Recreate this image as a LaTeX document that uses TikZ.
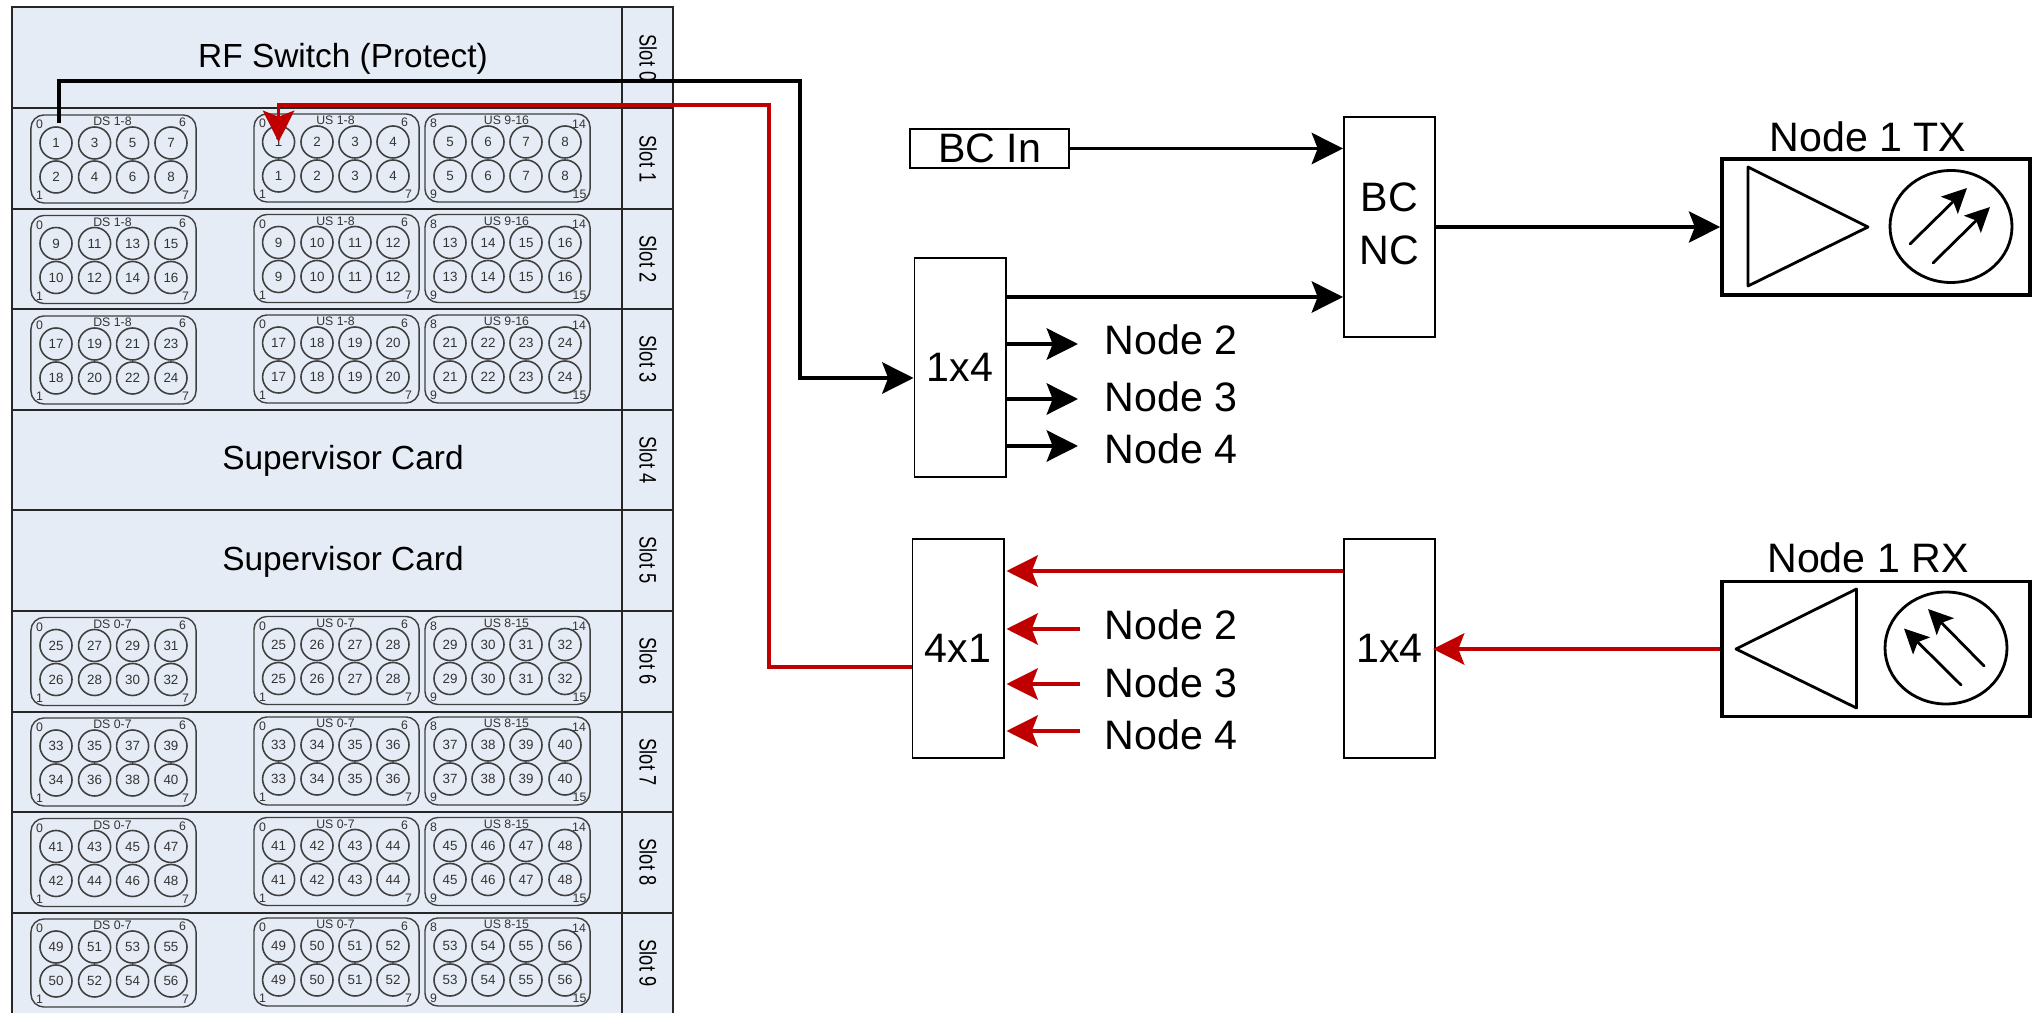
\documentclass[tikz,border=0pt]{standalone}
\usepackage{fontspec}
\setmainfont{Liberation Sans}
\usetikzlibrary{arrows.meta}
\definecolor{rackblue}{HTML}{E6ECF5}
\definecolor{sigred}{HTML}{C00000}
\tikzset{
bigtip/.tip={Stealth[length=8.9pt,width=8.9pt,inset=1.7pt]},
smalltip/.tip={Stealth[length=7pt,width=6.8pt,inset=1.5pt]},
blackline/.style={line width=1pt,-{bigtip},black},
redline/.style={line width=1pt,-{bigtip},sigred},
plainbox/.style={draw,line width=0.55pt,fill=white,inner sep=0pt,align=center,font=\bigfont},
portbox/.style={draw=black!75,line width=0.4pt,rounded corners=0.13cm,minimum width=1.65cm,minimum height=0.88cm,inner sep=0pt},
port/.style={circle,draw=black!75,line width=0.45pt,minimum size=0.32cm,inner sep=0pt,font=\portfont,text=black!80},
tiny/.style={inner sep=0pt,font=\cornerfont,text=black!80},
slotlabel/.style={rotate=-90,yscale=1.3,transform shape,inner sep=0pt,font=\slotfont},
cardlabel/.style={inner sep=0pt,font=\cardfont},
nodelabel/.style={anchor=west,inner sep=0pt,font=\bigfont},
unitbox/.style={draw,line width=1pt},
unitline/.style={line width=0.8pt,line join=round},
unitarrow/.style={line width=0.8pt,-{smalltip},line cap=round},
}
\newcommand{\bigfont}{\fontsize{11.7}{14}\selectfont}
\newcommand{\cardfont}{\fontsize{9.5}{11}\selectfont}
\newcommand{\slotfont}{\fontsize{5.2}{6}\selectfont}
\newcommand{\portfont}{\fontsize{3.8}{4}\selectfont}
\newcommand{\cornerfont}{\fontsize{3.5}{4}\selectfont}
\newcommand{\portgroup}[9]{
\node[portbox] (#1) at (#2+82.5,#3+44) {};
\node[tiny] at (#2+81.5,#3+6.5) {#4};
\node[tiny] at (#2+8.5,#3+9.5) {#5};
\node[tiny] at (#9) {#6};
\node[tiny] at (#2+8.5,#3+80.5) {#7};
\node[tiny] at (#2+154.5,#3+80.5) {#8};
}
\begin{document}
\begin{tikzpicture}[x=0.01cm,y=-0.01cm]
\useasboundingbox (0,0) rectangle (2039,1013);
\fill[rackblue] (12,7) rectangle (673,1013);
\draw[line width=0.5pt,black!85] (12,1013)--(12,7)--(673,7)--(673,1013);
\draw[line width=0.5pt,black!85] (622,7)--(622,1013);
\foreach \y in {108,209,309,410,510,611,712,812,913}
  \draw[line width=0.5pt,black!85] (12,\y)--(673,\y);

\foreach \s/\y in {0/58,1/159,2/259,3/359,4/460,5/560,6/661,7/762,8/862,9/963}
  \node[slotlabel] (slot\s) at (648,\y) {Slot \s};
\node[cardlabel] (rfswitch) at (343,59) {RF Switch (Protect)};
\node[cardlabel] (super1) at (343,461) {Supervisor Card};
\node[cardlabel] (super2) at (343,562) {Supervisor Card};

\foreach \s/\off/\n/\dst/\ust/\usu in {1/0/0/DS 1-8/US 1-8/US 9-16,2/100.5/8/DS 1-8/US 1-8/US 9-16,3/201/16/DS 1-8/US 1-8/US 9-16,6/502.5/24/DS 0-7/US 0-7/US 8-15,7/603/32/DS 0-7/US 0-7/US 8-15,8/703.5/40/DS 0-7/US 0-7/US 8-15,9/804/48/DS 0-7/US 0-7/US 8-15}{
\begin{scope}[shift={(0,\off)}]
\portgroup{dsbox\s}{31}{115}{\dst}{0}{6}{1}{7}{182.5,122.5}
\portgroup{usabox\s}{254}{114}{\ust}{0}{6}{1}{7}{404.5,122}
\portgroup{usbbox\s}{425}{114}{\usu}{8}{14}{9}{15}{579,124}
\foreach \c/\xd/\xa/\xb in {0/56/278.6/450,1/94.6/317/488,2/132.6/355/526,3/171/393/565}{
\pgfmathtruncatemacro{\da}{\n+2*\c+1}
\pgfmathtruncatemacro{\db}{\n+2*\c+2}
\pgfmathtruncatemacro{\ua}{\n+\c+1}
\pgfmathtruncatemacro{\ub}{\n+\c+5}
\node[port] (ds\s-\c-t) at (\xd,143) {\da};
\node[port] (ds\s-\c-b) at (\xd,177) {\db};
\node[port] (usa\s-\c-t) at (\xa,142) {\ua};
\node[port] (usa\s-\c-b) at (\xa,176) {\ua};
\node[port] (usb\s-\c-t) at (\xb,142) {\ub};
\node[port] (usb\s-\c-b) at (\xb,176) {\ub};
}
\end{scope}
}

\node[plainbox,minimum width=1.59cm,minimum height=0.39cm] (bcin) at (989.5,148.5) {BC In};
\node[plainbox,minimum width=0.91cm,minimum height=2.19cm] (bcnc) at (1389.5,227) {};
\node[inner sep=0pt,align=center,font=\bigfont] (bcname) at (1389.5,224) {BC\\[1pt]NC};
\node[plainbox,minimum width=0.91cm,minimum height=2.19cm] (split) at (960,367.5) {1x4};
\node[plainbox,minimum width=0.91cm,minimum height=2.19cm] (combine) at (958,648.5) {4x1};
\node[plainbox,minimum width=0.91cm,minimum height=2.19cm] (rxsplit) at (1389.5,648.5) {1x4};

\node[nodelabel] (tx2) at (1104,340) {Node 2};
\node[nodelabel] (tx3) at (1104,397) {Node 3};
\node[nodelabel] (tx4) at (1104,449) {Node 4};
\node[nodelabel] (rx2) at (1104,624.5) {Node 2};
\node[nodelabel] (rx3) at (1104,682.5) {Node 3};
\node[nodelabel] (rx4) at (1104,735) {Node 4};

\node[unitbox,minimum width=3.08cm,minimum height=1.36cm] (txunit) at (1876,227) {};
\node[inner sep=0pt,font=\bigfont] (txname) at (1868,137) {Node 1 TX};
\draw[unitline] (1748,167)--(1868,227)--(1748,286)--cycle;
\draw[unitline] (1951,226.5) ellipse (61 and 56);
\draw[unitarrow] (1910,244)--(1967,188);
\draw[unitarrow] (1933,263)--(1990,207);

\node[unitbox,minimum width=3.08cm,minimum height=1.35cm] (rxunit) at (1876,649) {};
\node[inner sep=0pt,font=\bigfont] (rxname) at (1868,558) {Node 1 RX};
\draw[unitline] (1736,649)--(1856.5,589)--(1856.5,708)--cycle;
\draw[unitline] (1946,648) ellipse (61 and 56);
\draw[unitarrow] (1961,685)--(1904,628.5);
\draw[unitarrow] (1984,666)--(1928,609);

\coordinate (dsout) at (59,123);
\coordinate (bturn) at (800,81);
\coordinate (ain) at (0,378);
\draw[blackline] (dsout) |- (bturn) |- (split.west |- ain);
\coordinate (rout) at (0,667);
\coordinate (rturn) at (769,105);
\draw[redline] (combine.west |- rout) -| (rturn) -| (usa1-0-t.center);

\draw[blackline] (bcin.east) -- (bcin.east -| bcnc.west);
\coordinate (aout) at (0,297);
\draw[blackline] (split.east |- aout) -- (bcnc.west |- aout);
\draw[blackline] (bcnc.east) -- (txunit.west);
\foreach \t/\y in {tx2/344,tx3/399,tx4/446}{
\coordinate (c\t) at (0,\y);
\draw[blackline] (split.east |- c\t) -- ([xshift=-0.26cm]\t.west |- c\t);
}
\coordinate (rin) at (0,571);
\draw[redline] (rxsplit.west |- rin) -- ([xshift=0.02cm]combine.east |- rin);
\foreach \t/\y in {rx2/629,rx3/684,rx4/731}{
\coordinate (c\t) at (0,\y);
\draw[redline] ([xshift=-0.24cm]\t.west |- c\t) -- ([xshift=0.02cm]combine.east |- c\t);
}
\draw[redline] (rxunit.west) -- ([xshift=-0.03cm]rxsplit.east |- rxunit.west);
\end{tikzpicture}
\end{document}
